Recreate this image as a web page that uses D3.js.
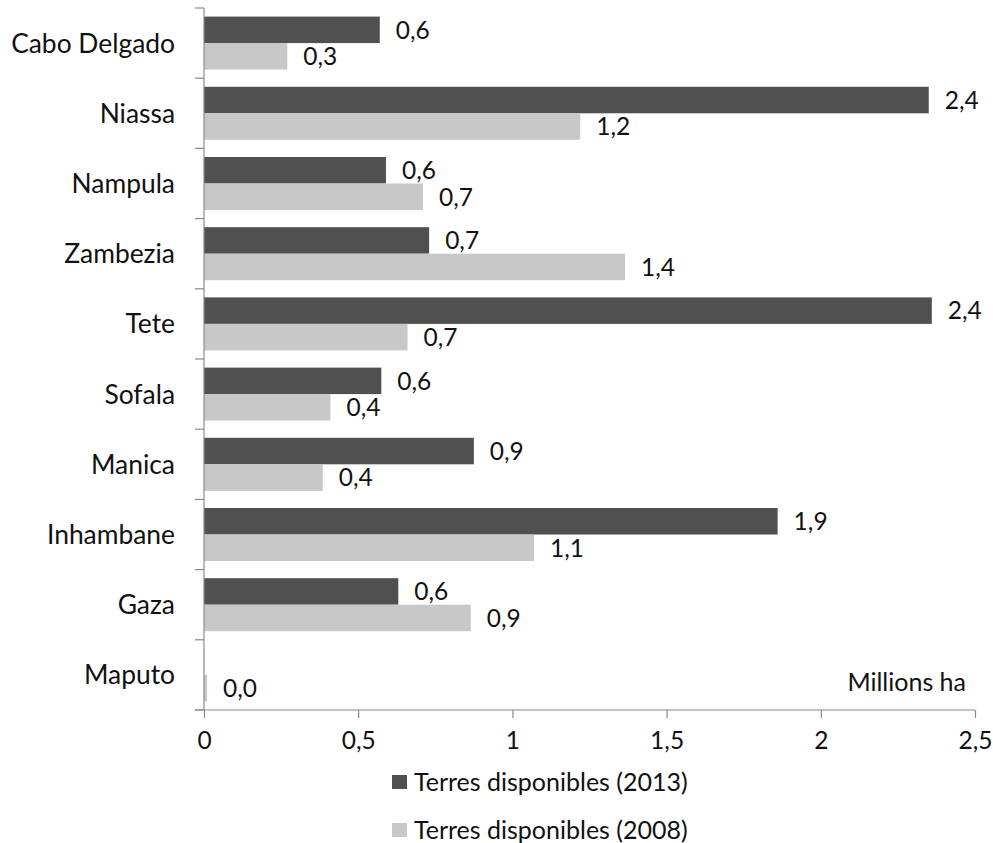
<!DOCTYPE html>
<html><head><meta charset="utf-8">
<script src="https://cdn.jsdelivr.net/npm/d3@7"></script>
<style>body{margin:0;background:#fff}svg{display:block}text{font-family:Lato,"Open Sans",sans-serif;fill:#111}</style>
</head><body><svg id="c" width="993" height="843"></svg>
<script>
const categories = ["Cabo Delgado","Niassa","Nampula","Zambezia","Tete","Sofala","Manica","Inhambane","Gaza","Maputo"];
const values2013 = [0.57,2.35,0.59,0.73,2.36,0.575,0.875,1.86,0.63,0];
const values2008 = [0.27,1.22,0.71,1.365,0.66,0.41,0.385,1.07,0.865,0.01];
const labels2013 = ["0,6","2,4","0,6","0,7","2,4","0,6","0,9","1,9","0,6",null];
const labels2008 = ["0,3","1,2","0,7","1,4","0,7","0,4","0,4","1,1","0,9","0,0"];
const seriesNames = ["Terres disponibles (2013)","Terres disponibles (2008)"];
const xTicks = [0,0.5,1,1.5,2,2.5];
const xTickLabels = ["0","0,5","1","1,5","2","2,5"];
const unitLabel = "Millions ha";
const colors = ["#505050","#c8c8c8"];

const svg = d3.select("#c");
const x = d3.scaleLinear().domain([0,2.5]).range([204,975]);
const y = d3.scaleBand().domain(categories).range([8,710]).paddingInner(0.245).paddingOuter(0.1225);
const sub = d3.scaleBand().domain([0,1]).range([0,y.bandwidth()]);

const data = categories.map((c,i)=>({c, v:[values2013[i],values2008[i]], l:[labels2013[i],labels2008[i]]}));

const g = svg.append("g");
data.forEach(d=>{
  [0,1].forEach(s=>{
    if(d.v[s]>0){
      g.append("rect").attr("x",x(0)).attr("y",y(d.c)+sub(s)).attr("width",x(d.v[s])-x(0)).attr("height",sub.bandwidth()).attr("fill",colors[s]);
    }
    if(d.l[s]!==null){
      g.append("text").attr("x",x(d.v[s])+16).attr("y",y(d.c)+sub(s)+sub.bandwidth()/2).attr("dy","0.36em")
        .attr("font-size",24.5).text(d.l[s]);
    }
  });
});

// y axis
const yax = svg.append("g");
yax.append("line").attr("x1",204).attr("x2",204).attr("y1",8).attr("y2",710).attr("stroke","#8a8a8a").attr("stroke-width",1.2);
d3.range(categories.length+1).forEach(i=>{
  const yy = 8 + i*(702/categories.length);
  yax.append("line").attr("x1",195).attr("x2",204).attr("y1",yy).attr("y2",yy).attr("stroke","#8a8a8a").attr("stroke-width",1.2);
});
categories.forEach(c=>{
  yax.append("text").attr("x",175).attr("y",y(c)+y.bandwidth()/2).attr("dy","0.36em").attr("text-anchor","end").attr("font-size",26.4).text(c);
});

// x axis
const xax = svg.append("g").attr("transform","translate(0,710)")
  .call(d3.axisBottom(x).tickValues(xTicks).tickFormat((d,i)=>xTickLabels[i]).tickSize(8).tickPadding(14));
xax.select(".domain").attr("stroke","#8a8a8a").attr("stroke-width",1.2).attr("d","M195,0H975");
xax.selectAll(".tick line").attr("stroke","#8a8a8a").attr("stroke-width",1.2);
xax.selectAll(".tick text").attr("font-size",24.5).attr("font-family","Lato").attr("fill","#111");

svg.append("text").attr("x",966).attr("y",682).attr("dy","0.36em").attr("text-anchor","end").attr("font-size",25).text(unitLabel);

// legend
seriesNames.forEach((n,i)=>{
  const ly = 782 + i*48;
  svg.append("rect").attr("x",392).attr("y",ly-7).attr("width",15).attr("height",14).attr("fill",colors[i]);
  svg.append("text").attr("x",414).attr("y",ly).attr("dy","0.36em").attr("font-size",25).text(n);
});
</script></body></html>
